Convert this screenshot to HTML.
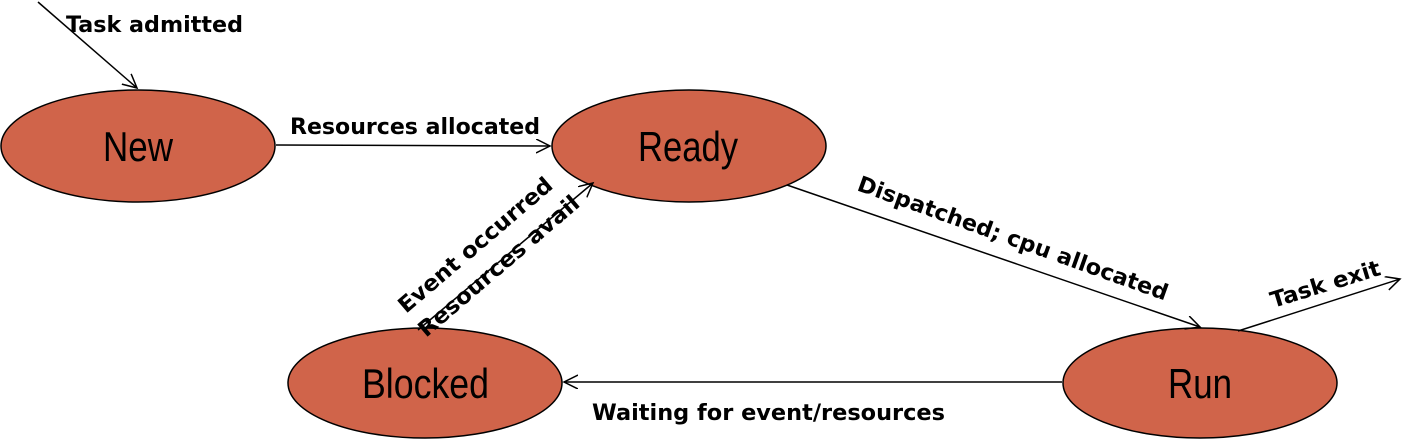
<!DOCTYPE html>
<html><head><style>
body{margin:0;background:#fff;}
svg{display:block;}
.l{font-family:"DejaVu Sans",sans-serif;font-weight:bold;font-size:22px;fill:#000;}
.n{font-family:"Liberation Sans",sans-serif;font-size:42px;fill:#000;}
</style></head><body>
<svg width="1417" height="442" viewBox="0 0 1417 442">
<defs><marker id="a" markerWidth="20" markerHeight="20" refX="14" refY="7" orient="auto" markerUnits="userSpaceOnUse"><path d="M0,0 L14,7 L0,14" fill="none" stroke="#000" stroke-width="1.5"/></marker></defs>
<g fill="#D0644A" stroke="#000" stroke-width="1.5">
<ellipse cx="138" cy="146" rx="137" ry="56"/>
<ellipse cx="689" cy="146" rx="137" ry="56"/>
<ellipse cx="425" cy="383" rx="137" ry="55"/>
<ellipse cx="1200" cy="383" rx="137" ry="55"/>
</g>
<text class="n" x="103" y="161" textLength="70" lengthAdjust="spacingAndGlyphs">New</text>
<text class="n" x="638" y="161" textLength="100" lengthAdjust="spacingAndGlyphs">Ready</text>
<text class="n" x="362" y="398" textLength="127" lengthAdjust="spacingAndGlyphs">Blocked</text>
<text class="n" x="1168" y="398" textLength="64" lengthAdjust="spacingAndGlyphs">Run</text>
<g stroke="#000" stroke-width="1.5" fill="none" marker-end="url(#a)">
<line x1="38" y1="2" x2="137" y2="88"/>
<line x1="276" y1="145" x2="550" y2="146"/>
<line x1="787" y1="185" x2="1200" y2="327"/>
<line x1="1062" y1="382" x2="564" y2="382"/>
<line x1="418" y1="330" x2="593" y2="183"/>
<line x1="1238" y1="331" x2="1400" y2="279"/>
</g>
<text class="l" x="66" y="32" textLength="177" lengthAdjust="spacingAndGlyphs">Task admitted</text>
<text class="l" x="290" y="134" textLength="250" lengthAdjust="spacingAndGlyphs">Resources allocated</text>
<text class="l" x="592" y="420" textLength="353" lengthAdjust="spacingAndGlyphs">Waiting for event/resources</text>
<text class="l" transform="translate(856,190) rotate(19.7)" textLength="328" lengthAdjust="spacingAndGlyphs">Dispatched; cpu allocated</text>
<text class="l" transform="translate(1273,308) rotate(-17)" textLength="114" lengthAdjust="spacingAndGlyphs">Task exit</text>
<text class="l" transform="translate(406,314) rotate(-40.5)" textLength="195" lengthAdjust="spacingAndGlyphs">Event occurred</text>
<text class="l" transform="translate(426,338) rotate(-40.5)" textLength="204" lengthAdjust="spacingAndGlyphs">Resources avail</text>
</svg>
</body></html>
